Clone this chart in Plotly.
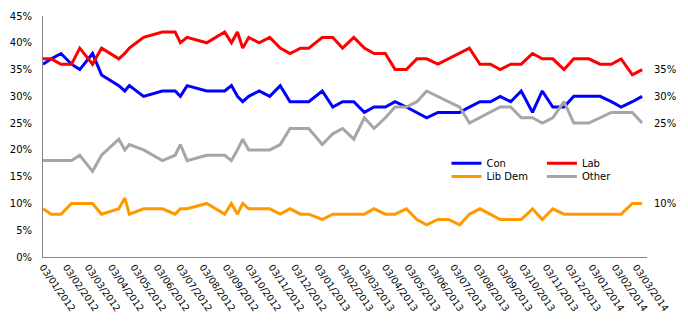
import plotly.graph_objects as go

# Poll fieldwork dates
poll_dates = [
    "2012-01-03", "2012-01-14", "2012-01-27", "2012-02-10", "2012-02-21",
    "2012-03-09", "2012-03-21", "2012-04-13", "2012-04-21", "2012-04-27",
    "2012-05-16", "2012-06-10", "2012-06-27", "2012-07-04", "2012-07-13",
    "2012-08-08", "2012-09-01", "2012-09-10", "2012-09-18", "2012-09-25",
    "2012-10-03", "2012-10-17", "2012-10-31", "2012-11-14", "2012-11-27",
    "2012-12-11", "2012-12-22", "2013-01-09", "2013-01-23", "2013-02-05",
    "2013-02-20", "2013-03-06", "2013-03-19", "2013-04-03", "2013-04-16",
    "2013-05-01", "2013-05-15", "2013-05-28", "2013-06-12", "2013-06-26",
    "2013-07-11", "2013-07-24", "2013-08-07", "2013-08-21", "2013-09-03",
    "2013-09-17", "2013-10-01", "2013-10-16", "2013-10-29", "2013-11-12",
    "2013-11-27", "2013-12-10", "2013-12-30", "2014-01-14", "2014-01-29",
    "2014-02-11", "2014-02-26", "2014-03-11",
]

con = [36, 37, 38, 36, 35, 38, 34, 32, 31, 32, 30, 31, 31, 30, 32,
       31, 31, 32, 30, 29, 30, 31, 30, 32, 29, 29, 29, 31, 28, 29,
       29, 27, 28, 28, 29, 28, 27, 26, 27, 27, 27, 28, 29, 29, 30,
       29, 31, 27, 31, 28, 28, 30, 30, 30, 29, 28, 29, 30]
lab = [37, 37, 36, 36, 39, 36, 39, 37, 38, 39, 41, 42, 42, 40, 41,
       40, 42, 40, 42, 39, 41, 40, 41, 39, 38, 39, 39, 41, 41, 39,
       41, 39, 38, 38, 35, 35, 37, 37, 36, 37, 38, 39, 36, 36, 35,
       36, 36, 38, 37, 37, 35, 37, 37, 36, 36, 37, 34, 35]
lib_dem = [9, 8, 8, 10, 10, 10, 8, 9, 11, 8, 9, 9, 8, 9, 9,
           10, 8, 10, 8, 10, 9, 9, 9, 8, 9, 8, 8, 7, 8, 8,
           8, 8, 9, 8, 8, 9, 7, 6, 7, 7, 6, 8, 9, 8, 7,
           7, 7, 9, 7, 9, 8, 8, 8, 8, 8, 8, 10, 10]
other = [18, 18, 18, 18, 19, 16, 19, 22, 20, 21, 20, 18, 19, 21, 18,
         19, 19, 18, 20, 22, 20, 20, 20, 21, 24, 24, 24, 21, 23, 24,
         22, 26, 24, 26, 28, 28, 29, 31, 30, 29, 28, 25, 26, 27, 28,
         28, 26, 26, 25, 26, 29, 25, 25, 26, 27, 27, 27, 25]

series = [
    ("Con", con, "#0000FF", "legend"),
    ("Lab", lab, "#FF0000", "legend2"),
    ("Lib Dem", lib_dem, "#FF9900", "legend3"),
    ("Other", other, "#A6A6A6", "legend4"),
]

FONT = "DejaVu Sans"

fig = go.Figure()
for name, values, color, legend_id in series:
    fig.add_trace(go.Scatter(
        x=poll_dates, y=values, name=name, mode="lines",
        line=dict(color=color, width=3),
        legend=legend_id,
    ))
    # value label next to the most recent poll
    fig.add_annotation(
        x=poll_dates[-1], y=values[-1], text=f"{values[-1]}%",
        showarrow=False, xanchor="left", yanchor="middle", xshift=10,
        font=dict(family=FONT, size=10, color="#000000"),
    )

legend_style = dict(
    xanchor="left", yanchor="middle", bgcolor="rgba(0,0,0,0)",
    font=dict(family=FONT, size=10, color="#000000"),
)

fig.update_layout(
    width=688, height=327,
    margin=dict(l=38, r=41, t=10, b=70),
    paper_bgcolor="white", plot_bgcolor="white",
    font=dict(family=FONT, size=10, color="#000000"),
    legend=dict(x=0.668, y=0.3887, **legend_style),
    legend2=dict(x=0.826, y=0.3887, **legend_style),
    legend3=dict(x=0.668, y=0.334, **legend_style),
    legend4=dict(x=0.826, y=0.334, **legend_style),
    showlegend=True,
)

fig.update_xaxes(
    type="date",
    range=["2012-01-03", "2014-03-17 12:00"],
    tick0="2012-01-03", dtick="M1", tickformat="%d/%m/%Y",
    tickangle=55, tickfont=dict(family=FONT, size=9.5, color="#000000"),
    showline=True, linecolor="#868686", linewidth=1,
    showgrid=False, zeroline=False, ticks="",
)
fig.update_yaxes(
    range=[0, 45], dtick=5, ticksuffix="%",
    tickfont=dict(family=FONT, size=10, color="#000000"),
    showline=True, linecolor="#868686", linewidth=1,
    showgrid=False, zeroline=False, ticks="", ticklabelstandoff=8,
)

fig.write_html("out.html")
